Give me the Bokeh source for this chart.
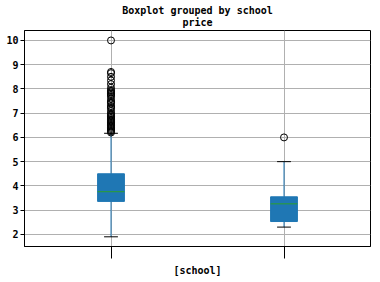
from bokeh.plotting import figure
from bokeh.models import FixedTicker, Range1d, Title
from bokeh.embed import file_html
from bokeh.resources import INLINE

# ---- data ----
schools = ["", ""]            # x tick labels are not legible in the reference
positions = [1, 2]
q1 = [3.36, 2.53]
median = [3.76, 3.26]
q3 = [4.50, 3.55]
lower = [1.90, 2.30]
upper = [6.17, 5.00]
outliers_1 = [10.0, 8.7, 8.65, 8.5, 8.35, 8.2, 8.05, 7.95, 7.9, 7.85, 7.8, 7.75,
              7.7, 7.6, 7.5, 7.45, 7.4, 7.3, 7.25, 7.2, 7.1, 7.0, 6.95, 6.9,
              6.85, 6.8, 6.75, 6.7, 6.65, 6.6, 6.55, 6.5, 6.45, 6.4, 6.35,
              6.3, 6.25, 6.2]
outliers_2 = [6.0]
yticks = [2, 3, 4, 5, 6, 7, 8, 9, 10]
suptitle = "Boxplot grouped by school"
subtitle = "price"

FONT = "DejaVu Sans Mono"
BLUE = "#1f77b4"
GREEN = "#2ca02c"

p = figure(width=380, height=282, output_backend="svg", toolbar_location=None,
           x_range=Range1d(0.5, 2.5), y_range=Range1d(1.5, 10.41),
           min_border_left=24, min_border_right=10, min_border_top=30,
           min_border_bottom=36)
p.title.text = ""
p.title.visible = False
p.add_layout(Title(text=subtitle, align="center", text_font=FONT,
                   text_font_size="10px", text_font_style="bold",
                   text_color="black", text_line_height=0.8,
                   standoff=5), "above")
p.add_layout(Title(text=suptitle, align="center", text_font=FONT,
                   text_font_size="10px", text_font_style="bold",
                   text_color="black", text_line_height=0.8,
                   standoff=-7), "above")

p.background_fill_color = "white"
p.border_fill_color = "white"
p.outline_line_color = "black"
p.outline_line_width = 1

# grid
p.xgrid.ticker = FixedTicker(ticks=positions)
p.ygrid.ticker = FixedTicker(ticks=yticks)
for g in (p.xgrid, p.ygrid):
    g.grid_line_color = "#b0b0b0"
    g.grid_line_width = 1

# axes
p.xaxis.ticker = FixedTicker(ticks=positions)
p.xaxis.major_label_overrides = {pos: lab for pos, lab in zip(positions, schools)}
p.xaxis.axis_label = "[school]"
p.xaxis.axis_label_text_font = FONT
p.xaxis.axis_label_text_font_size = "10px"
p.xaxis.axis_label_text_font_style = "bold"
p.xaxis.axis_label_text_color = "black"
p.xaxis.axis_label_standoff = 6
p.xaxis.major_tick_out = 12
p.xaxis.major_tick_in = 0
p.xaxis.minor_tick_out = 0
p.xaxis.minor_tick_in = 0

p.yaxis.ticker = FixedTicker(ticks=yticks)
p.yaxis.major_tick_out = 4
p.yaxis.major_tick_in = 0
p.yaxis.minor_tick_out = 0
p.yaxis.minor_tick_in = 0
p.yaxis.major_label_standoff = 2
for ax in (p.xaxis, p.yaxis):
    ax.axis_line_color = "black"
    ax.major_tick_line_color = "black"
    ax.major_label_text_font = FONT
    ax.major_label_text_font_size = "10px"
    ax.major_label_text_font_style = "bold"
    ax.major_label_text_color = "black"

# boxes
p.vbar(x=positions, bottom=q1, top=q3, width=0.155, fill_color=BLUE,
       line_color=BLUE)
p.segment(x0=[x - 0.0775 for x in positions], x1=[x + 0.0775 for x in positions],
          y0=median, y1=median, line_color=GREEN, line_width=1)
# whiskers
p.segment(x0=positions, x1=positions, y0=q3, y1=upper, line_color=BLUE, line_width=1)
p.segment(x0=positions, x1=positions, y0=q1, y1=lower, line_color=BLUE, line_width=1)
# caps
cap = 0.04
p.segment(x0=[x - cap for x in positions], x1=[x + cap for x in positions],
          y0=upper, y1=upper, line_color="black", line_width=1)
p.segment(x0=[x - cap for x in positions], x1=[x + cap for x in positions],
          y0=lower, y1=lower, line_color="black", line_width=1)
# fliers
p.scatter(x=[positions[0]] * len(outliers_1), y=outliers_1, marker="circle",
          size=7, fill_color=None, line_color="black", line_width=1)
p.scatter(x=[positions[1]] * len(outliers_2), y=outliers_2, marker="circle",
          size=7, fill_color=None, line_color="black", line_width=1)

open("out.html", "w").write(file_html(p, INLINE))
